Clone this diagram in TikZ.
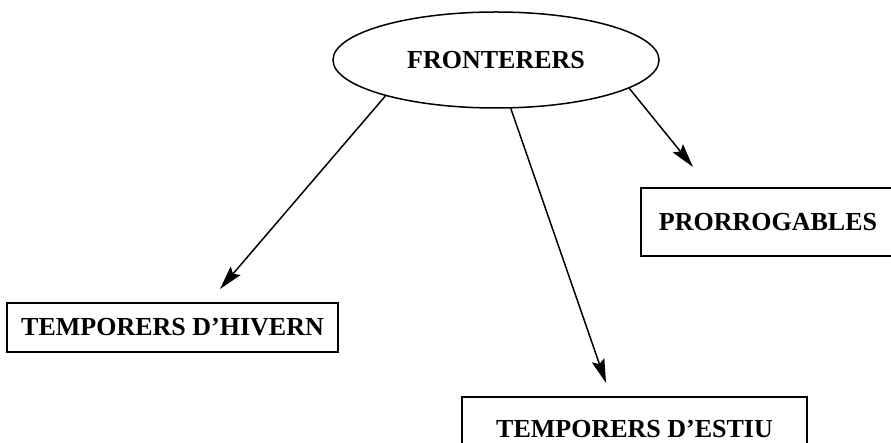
\documentclass[tikz,border=0pt]{standalone}
\usepackage{fontspec}
\setmainfont{Liberation Serif}
\usetikzlibrary{shapes.geometric}
\usetikzlibrary{arrows.meta}
\tikzset{
  lbl/.style={font=\fontsize{26}{30}\selectfont\bfseries, inner sep=0pt},
  caixa/.style={lbl, draw, line width=1.5pt},
  fletxa/.style={line width=1.5pt, -{Stealth[length=24pt,width=13pt,inset=4pt]}}
}

\begin{document}
\begin{tikzpicture}[x=1pt,y=-1pt]
          \useasboundingbox (0,0) rectangle (891,443);
          \clip (0,0) rectangle (891,443);
          \node[lbl, draw, ellipse, line width=1.5pt, minimum width=326pt, minimum height=96pt] (fr) at (496,60) {FRONTERERS};
          \node[caixa, minimum width=331pt, minimum height=49pt] (hiv) at (172.5,327.5) {TEMPORERS D’HIVERN};
          \node[caixa, minimum width=345pt, minimum height=64pt] (est) at (634.5,429) {TEMPORERS D’ESTIU};
          \node[caixa, minimum width=254pt, minimum height=68pt] (pro) at (768,222) {PRORROGABLES};

          \coordinate (thiv) at (220,289);
          \coordinate (test) at (606,383);
          \coordinate (tpro) at (693,167);

          \draw[fletxa] (fr.198.9) -- (thiv);
          \draw[fletxa] (fr.287.7) -- (test);
          \draw[fletxa] (fr.348.4) -- (tpro);
        \end{tikzpicture}
\end{document}
